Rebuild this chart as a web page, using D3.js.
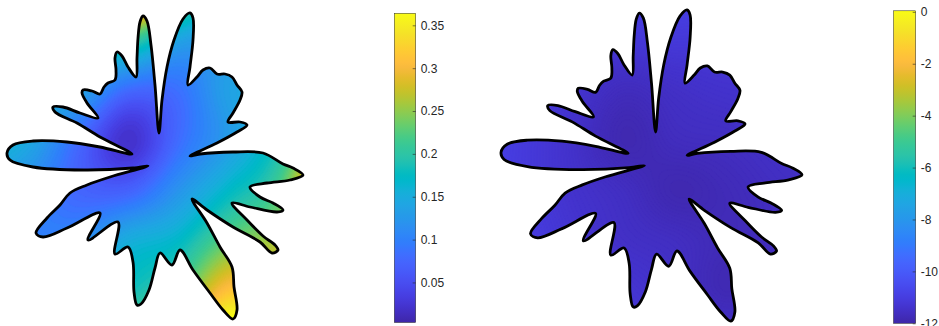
<!DOCTYPE html>
<html>
<head>
<meta charset="utf-8">
<script src="https://cdn.jsdelivr.net/npm/d3@7"></script>
<style>
  body { margin: 0; background: #fff; }
  svg { display: block; }
  text { font-family: "Liberation Sans", Arial, sans-serif; }
</style>
</head>
<body>
<svg id="chart" width="939" height="326"></svg>
<script>
//Boundary of the domain, [x, y] in plot units, traced clockwise from the left petal//
var outline = [
  [-1.48, 0.14], [-1.42, 0.22], [-1.22, 0.26], [-0.88, 0.25], [-0.55, 0.20], [-0.23, 0.13],
  [-0.55, 0.30], [-0.78, 0.44], [-1.00, 0.55], [-1.02, 0.60], [-0.92, 0.60], [-0.75, 0.54],
  [-0.57, 0.49], [-0.68, 0.64], [-0.73, 0.74], [-0.72, 0.77], [-0.63, 0.76], [-0.55, 0.73],
  [-0.51, 0.80], [-0.47, 0.84], [-0.40, 0.87], [-0.39, 0.97], [-0.40, 1.09], [-0.38, 1.15],
  [-0.33, 1.11], [-0.27, 1.00], [-0.19, 0.90], [-0.18, 1.09], [-0.17, 1.29], [-0.15, 1.45],
  [-0.12, 1.51], [-0.08, 1.46], [-0.04, 1.22], [0.00, 0.82], [0.04, 0.34], [0.07, 0.67],
  [0.12, 1.00], [0.19, 1.27], [0.28, 1.48], [0.35, 1.54], [0.38, 1.49], [0.38, 1.27],
  [0.35, 1.00], [0.33, 0.82], [0.42, 0.90], [0.48, 0.97], [0.55, 0.99], [0.62, 0.93],
  [0.70, 0.93], [0.77, 0.90], [0.82, 0.82], [0.87, 0.75], [0.85, 0.67], [0.78, 0.54],
  [0.73, 0.45], [0.85, 0.45], [0.92, 0.42], [0.82, 0.35], [0.62, 0.24], [0.35, 0.11],
  [0.45, 0.13], [0.78, 0.15], [1.08, 0.14], [1.28, 0.03], [1.38, -0.01], [1.48, -0.08],
  [1.35, -0.13], [1.12, -0.16], [0.95, -0.20], [1.05, -0.30], [1.18, -0.36], [1.28, -0.43],
  [1.22, -0.45], [0.95, -0.40], [0.77, -0.36], [0.92, -0.53], [1.08, -0.69], [1.20, -0.78],
  [1.23, -0.83], [1.17, -0.86], [1.05, -0.75], [0.78, -0.60], [0.52, -0.43], [0.37, -0.32],
  [0.52, -0.56], [0.65, -0.80], [0.77, -1.00], [0.79, -1.20], [0.82, -1.43], [0.78, -1.52],
  [0.68, -1.43], [0.55, -1.26], [0.38, -1.03], [0.25, -0.83], [0.17, -0.98], [0.05, -0.86],
  [0.00, -1.01], [-0.06, -1.23], [-0.14, -1.37], [-0.18, -1.38], [-0.21, -1.25], [-0.22, -0.95],
  [-0.27, -0.80], [-0.40, -0.87], [-0.37, -0.55], [-0.67, -0.73], [-0.55, -0.46], [-0.88, -0.61],
  [-1.12, -0.70], [-1.19, -0.66], [-1.08, -0.51], [-0.95, -0.38], [-0.85, -0.26], [-0.68, -0.18],
  [-0.45, -0.10], [-0.07, 0.01], [-0.22, -0.01], [-0.72, -0.03], [-1.22, 0.00], [-1.45, 0.07]
];

var gridX = [-1.77, -1.27, -0.77, -0.27, 0.23, 0.73, 1.23, 1.73];
var gridY = [1.77, 1.27, 0.77, 0.27, -0.23, -0.73, -1.23, -1.73];

//Left field values, one row per gridY//
var leftField = [
  [0.20, 0.25, 0.30, 0.40, 0.26, 0.15, 0.15, 0.15],
  [0.16, 0.16, 0.17, 0.21, 0.14, 0.13, 0.14, 0.14],
  [0.17, 0.16, 0.14, 0.08, 0.085, 0.135, 0.15, 0.16],
  [0.17, 0.145, 0.08, 0.02, 0.08, 0.13, 0.18, 0.25],
  [0.12, 0.11, 0.075, 0.07, 0.12, 0.17, 0.22, 0.36],
  [0.10, 0.10, 0.11, 0.15, 0.17, 0.23, 0.26, 0.28],
  [0.12, 0.12, 0.15, 0.18, 0.22, 0.31, 0.30, 0.30],
  [0.12, 0.14, 0.18, 0.22, 0.30, 0.40, 0.36, 0.34]
];

//Right field values (log scale), one row per gridY//
var rightField = [
  [-10.8, -10.8, -10.85, -10.9, -10.85, -10.9, -11.2, -11.2],
  [-10.85, -10.95, -11.1, -11.2, -11.15, -11.2, -11.3, -11.4],
  [-10.9, -11.1, -11.35, -11.65, -11.5, -11.4, -11.4, -11.5],
  [-10.8, -11.1, -11.45, -11.85, -11.65, -11.6, -11.5, -11.5],
  [-10.9, -11.1, -11.4, -11.6, -11.85, -11.75, -11.6, -11.5],
  [-10.9, -11.0, -11.3, -11.5, -11.6, -11.75, -11.65, -11.5],
  [-11.0, -11.1, -11.2, -11.3, -11.5, -11.8, -11.6, -11.5],
  [-11.1, -11.2, -11.2, -11.2, -11.3, -11.4, -11.5, -11.5]
];

//Colour limits and colorbar ticks//
var leftLimits = [0.0033, 0.364];
var leftTicks = [0.05, 0.1, 0.15, 0.2, 0.25, 0.3, 0.35];
var rightLimits = [-12, 0.04];
var rightTicks = [-12, -10, -8, -6, -4, -2, 0];

//parula colormap//
var parula = [
  [0.2422,0.1504,0.6603],[0.2504,0.1650,0.7076],[0.2578,0.1818,0.7511],[0.2647,0.1978,0.7952],
  [0.2706,0.2147,0.8364],[0.2751,0.2342,0.8710],[0.2783,0.2559,0.8991],[0.2803,0.2782,0.9221],
  [0.2813,0.3006,0.9414],[0.2810,0.3228,0.9579],[0.2795,0.3447,0.9717],[0.2760,0.3667,0.9829],
  [0.2699,0.3892,0.9906],[0.2602,0.4123,0.9952],[0.2440,0.4358,0.9988],[0.2206,0.4603,0.9973],
  [0.1963,0.4847,0.9892],[0.1834,0.5074,0.9798],[0.1786,0.5289,0.9682],[0.1764,0.5499,0.9520],
  [0.1687,0.5703,0.9359],[0.1540,0.5902,0.9218],[0.1460,0.6091,0.9079],[0.1380,0.6276,0.8973],
  [0.1248,0.6459,0.8883],[0.1113,0.6635,0.8763],[0.0952,0.6798,0.8598],[0.0689,0.6948,0.8394],
  [0.0297,0.7082,0.8163],[0.0036,0.7203,0.7917],[0.0067,0.7312,0.7660],[0.0433,0.7411,0.7394],
  [0.0964,0.7500,0.7120],[0.1408,0.7584,0.6842],[0.1717,0.7670,0.6554],[0.1938,0.7758,0.6251],
  [0.2161,0.7843,0.5923],[0.2470,0.7918,0.5567],[0.2906,0.7973,0.5188],[0.3406,0.8008,0.4789],
  [0.3909,0.8029,0.4354],[0.4456,0.8024,0.3909],[0.5044,0.7993,0.3480],[0.5616,0.7942,0.3045],
  [0.6174,0.7876,0.2612],[0.6720,0.7793,0.2227],[0.7242,0.7698,0.1910],[0.7738,0.7598,0.1646],
  [0.8203,0.7498,0.1535],[0.8634,0.7406,0.1596],[0.9035,0.7330,0.1774],[0.9393,0.7288,0.2100],
  [0.9728,0.7298,0.2394],[0.9956,0.7434,0.2371],[0.9970,0.7659,0.2199],[0.9952,0.7893,0.2028],
  [0.9892,0.8136,0.1885],[0.9786,0.8386,0.1766],[0.9676,0.8639,0.1643],[0.9610,0.8890,0.1537],
  [0.9597,0.9135,0.1423],[0.9628,0.9373,0.1265],[0.9691,0.9606,0.1064],[0.9769,0.9839,0.0805]
].map(function(c) { return d3.rgb(c[0] * 255, c[1] * 255, c[2] * 255).toString(); });

var parulaInterp = d3.piecewise(d3.interpolateRgb, parula);

var svg = d3.select("#chart");
var defs = svg.append("defs");

//Catmull-Rom for smooth field between samples//
function cr(p0, p1, p2, p3, t) {
  return 0.5 * ((2 * p1) + (-p0 + p2) * t + (2 * p0 - 5 * p1 + 4 * p2 - p3) * t * t +
    (-p0 + 3 * p1 - 3 * p2 + p3) * t * t * t);
}

function sampleField(grid, u, v) {
  var nx = gridX.length, ny = gridY.length;
  var fx = (u - gridX[0]) / (gridX[1] - gridX[0]);
  var fy = (gridY[0] - v) / (gridY[0] - gridY[1]);
  fx = Math.max(0, Math.min(nx - 1, fx));
  fy = Math.max(0, Math.min(ny - 1, fy));
  var i = Math.min(Math.floor(fx), nx - 2), j = Math.min(Math.floor(fy), ny - 2);
  var tx = fx - i, ty = fy - j;
  function at(r, c) {
    r = Math.max(0, Math.min(ny - 1, r));
    c = Math.max(0, Math.min(nx - 1, c));
    return grid[r][c];
  }
  var rows = [];
  for (var k = -1; k <= 2; k++) {
    rows.push(cr(at(j + k, i - 1), at(j + k, i), at(j + k, i + 1), at(j + k, i + 2), tx));
  }
  return cr(rows[0], rows[1], rows[2], rows[3], ty);
}

//Shaded domain: field sampled every 2px, drawn as filled contour bands, clipped to the outline//
function drawPanel(id, xs, ys, grid, limits, step) {
  var color = d3.scaleSequential(parulaInterp).domain(limits).clamp(true);
  var line = d3.line()
    .x(function(d) { return xs(d[0]); })
    .y(function(d) { return ys(d[1]); })
    .curve(d3.curveCatmullRomClosed.alpha(0.5));
  var pathD = line(outline);

  var cell = 2;
  var ex = d3.extent(outline, function(d) { return xs(d[0]); });
  var ey = d3.extent(outline, function(d) { return ys(d[1]); });
  var bx = Math.floor(ex[0]) - 6, by = Math.floor(ey[0]) - 6;
  var nx = Math.ceil((ex[1] + 6 - bx) / cell) + 1;
  var ny = Math.ceil((ey[1] + 6 - by) / cell) + 1;

  var values = new Array(nx * ny);
  for (var r = 0; r < ny; r++) {
    for (var c = 0; c < nx; c++) {
      values[r * nx + c] = sampleField(grid, xs.invert(bx + c * cell), ys.invert(by + r * cell));
    }
  }
  var vExt = d3.extent(values);
  var levels = d3.range(Math.floor(vExt[0] / step) * step - step, vExt[1] + step, step);

  var bands = d3.contours().size([nx, ny]).smooth(true).thresholds(levels)(values);
  var proj = d3.geoPath(d3.geoIdentity().scale(cell).translate([bx - cell / 2, by - cell / 2]));

  defs.append("clipPath").attr("id", id).append("path").attr("d", pathD);

  var g = svg.append("g").attr("clip-path", "url(#" + id + ")");
  g.append("path").attr("d", pathD).attr("fill", color(levels[0] + step));
  g.selectAll("path.band")
    .data(bands)
    .enter()
    .append("path")
    .attr("class", "band")
    .attr("d", proj)
    .attr("fill", function(d) { return color(d.value + step / 2); })
    .attr("stroke", function(d) { return color(d.value + step / 2); })
    .attr("stroke-width", 0.6);

  svg.append("path")
    .attr("d", pathD)
    .attr("fill", "none")
    .attr("stroke", "#000")
    .attr("stroke-width", 2.8)
    .attr("stroke-linejoin", "round");
}

//Colorbar with ticks on the inside of its right edge//
function drawColorbar(id, x0, x1, scale, ticks) {
  var dom = scale.domain();
  var grad = defs.append("linearGradient")
    .attr("id", id)
    .attr("x1", 0).attr("y1", 1).attr("x2", 0).attr("y2", 0);
  parula.forEach(function(c, i) {
    grad.append("stop")
      .attr("offset", i / (parula.length - 1))
      .attr("stop-color", c);
  });

  svg.append("rect")
    .attr("x", x0)
    .attr("y", scale(dom[1]))
    .attr("width", x1 - x0)
    .attr("height", scale(dom[0]) - scale(dom[1]))
    .attr("fill", "url(#" + id + ")")
    .attr("stroke", "#262626")
    .attr("stroke-width", 0.5);

  var axis = d3.axisRight(scale)
    .tickValues(ticks)
    .tickSizeInner(-3)
    .tickSizeOuter(0)
    .tickPadding(5)
    .tickFormat(function(d) { return String(d); });

  var g = svg.append("g")
    .attr("transform", "translate(" + x1 + ",0)")
    .call(axis);
  g.select(".domain").remove();
  g.selectAll(".tick line").attr("stroke", "#262626").attr("stroke-width", 0.6);
  g.selectAll(".tick text")
    .attr("fill", "#262626")
    .attr("font-size", "12px")
    .attr("font-family", "'Liberation Sans', Arial, sans-serif");
}

var xLeft = d3.scaleLinear().domain([-1.5, 1.5]).range([5, 305]);
var yLeft = d3.scaleLinear().domain([-1.6, 1.6]).range([327, 7]);
var xRight = d3.scaleLinear().domain([-1.5, 1.5]).range([499, 804]);
var yRight = d3.scaleLinear().domain([-1.6, 1.6]).range([329.3, 3.9]);

drawPanel("clipLeft", xLeft, yLeft, leftField, leftLimits, 0.004);
drawPanel("clipRight", xRight, yRight, rightField, rightLimits, 0.02);

var cbLeft = d3.scaleLinear().domain(leftLimits).range([322.5, 13.3]);
var cbRight = d3.scaleLinear().domain(rightLimits).range([323.3, 10.8]);

drawColorbar("gradLeft", 394.3, 415.7, cbLeft, leftTicks);
drawColorbar("gradRight", 893.5, 915.7, cbRight, rightTicks);
</script>
</body>
</html>
